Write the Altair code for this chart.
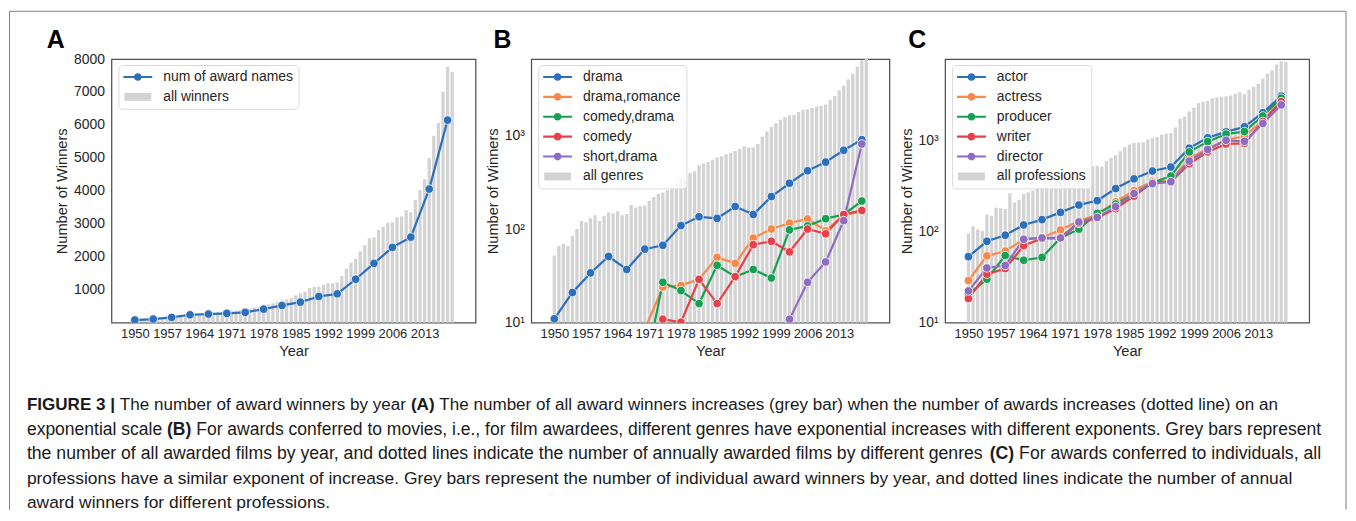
import altair as alt
import pandas as pd

FONT = "Liberation Sans"
TXT = "#262626"
BAR_GRAY = "#d3d3d3"
FRAME = "#808080"

YEARS = list(range(1950, 2020))
LINE_YEARS = list(range(1950, 2019, 4))
TICK_YEARS = list(range(1950, 2014, 7))

# ---------------- Panel A ----------------
all_winners = [100, 115, 120, 130, 145, 160, 170, 185, 200, 215,
               240, 255, 265, 275, 285, 295, 300, 310, 320, 330,
               340, 350, 365, 385, 400, 430, 460, 490, 520, 560,
               590, 630, 670, 700, 740, 835, 895, 935, 1050, 1080,
               1100, 1150, 1200, 1200, 1220, 1420, 1640, 1820, 1940, 2160,
               2360, 2560, 2590, 2810, 2910, 3030, 3050, 3190, 3230, 3410,
               3350, 3720, 4030, 4350, 5000, 5670, 6060, 7010, 7770, 7610]
award_names = [80, 110, 160, 240, 262, 282, 312, 412, 523, 624,
               795, 875, 1318, 1800, 2284, 2596, 4054, 6147]

# ---------------- Panel B ----------------
all_genres = [52, 66, 69, 66, 85, 100, 122, 118, 130, 140,
              122, 138, 150, 147, 155, 140, 145, 180, 170, 176,
              178, 200, 220, 238, 245, 260, 300, 305, 350, 340,
              395, 415, 480, 500, 520, 550, 580, 600, 630, 650,
              680, 715, 760, 740, 740, 810, 975, 1100, 1225, 1350,
              1465, 1560, 1640, 1650, 1780, 1870, 1900, 1965, 2030, 2060,
              2130, 2390, 2630, 3040, 3400, 3940, 4560, 5420, 6300, 6600]
genre_names = ["drama", "drama,romance", "comedy,drama", "comedy", "short,drama"]
drama = [11, 21, 34, 51, 37, 61, 67, 109, 135, 130, 174, 143, 222, 308, 419, 518, 694, 900]
drama_romance = [None, None, None, None, None, 8.5, 24, 25, 29, 50, 43, 80, 100, 116, 128, 96, 140, 155]
comedy_drama = [None, None, None, None, None, 3, 27, 22, 16, 41, 31, 37, 30, 98, 108, 129, 143, 199]
comedy = [None, None, None, None, None, None, 10.9, 10.1, 29, 16, 31, 68, 74, 57, 100, 89, 143, 158]
short_drama = [None] * 13 + [10.9, 27, 44.5, 123, 809]

# ---------------- Panel C ----------------
all_professions = [95, 114, 105, 102, 154, 149, 182, 180, 177, 262,
                   208, 221, 257, 270, 280, 300, 310, 320, 335, 345,
                   355, 365, 380, 395, 410, 440, 500, 520, 525, 515,
                   590, 640, 687, 760, 845, 900, 935, 945, 950, 1020,
                   1060, 1090, 1150, 1180, 1205, 1384, 1720, 1820, 2066, 2280,
                   2560, 2655, 2690, 2885, 2950, 3000, 3050, 3100, 3240, 3360,
                   3200, 3580, 3860, 4170, 4730, 5380, 5860, 6760, 7360, 7250]
prof_names = ["actor", "actress", "producer", "writer", "director"]
actor = [53, 78, 91, 118, 135, 162, 195, 218, 296, 378, 460, 509, 820, 1065, 1237, 1408, 2010, 3050]
actress = [29, 54, 61, 82, 86, 104, 130, 152, 212, 280, 358, 360, 632, 810, 1013, 1105, 1640, 2740]
producer = [20.6, 30, 54.5, 48.4, 52, 85, 106, 158, 200, 258, 342, 406, 746, 967, 1170, 1248, 1850, 2900]
writer = [18.4, 34, 39.2, 70, 84, 84, 123, 141, 178, 244, 346, 350, 553, 746, 912, 927, 1610, 2655]
director = [22.3, 39.8, 42.4, 82, 85, 85, 127, 143, 187, 261, 335, 352, 591, 792, 1000, 975, 1530, 2445]

PALETTE = ["#2c6fbb", "#f8894b", "#17a052", "#e5414b", "#8e6cbf"]

# caption text
caption_lines = [
    [("FIGURE 3 |", True), (" The number of award winners by year ", False), ("(A)", True),
     (" The number of all award winners increases (grey bar) when the number of awards increases (dotted line) on an", False)],
    [("exponential scale ", False), ("(B)", True),
     (" For awards conferred to movies, i.e., for film awardees, different genres have exponential increases with different exponents. Grey bars represent", False)],
    [("the number of all awarded films by year, and dotted lines indicate the number of annually awarded films by different genres ", False),
     ("(C)", True), (" For awards conferred to individuals, all", False)],
    [("professions have a similar exponent of increase. Grey bars represent the number of individual award winners by year, and dotted lines indicate the number of annual", False)],
    [("award winners for different professions.", False)],
]

# legend glyphs (unit = sqrt(symbolSize)/2 px)
LINE_SYM = ("M-1,-0.15H0.6V0.15H-1Z"
            "M1.54,-0.15H3.14V0.15H1.54Z"
            "M0.52,0A0.55,0.55,0,1,1,1.62,0A0.55,0.55,0,1,1,0.52,0Z")
RECT_SYM = "M-0.86,-0.57H3V0.57H-0.86Z"


def make_legend():
    return alt.Legend(
        title=None, orient="none", legendX=7, legendY=6,
        fillColor="rgba(255,255,255,0.8)", strokeColor="#dadada", cornerRadius=4,
        padding=5, symbolSize=196, symbolStrokeWidth=0, symbolOpacity=1,
        labelOffset=26, labelFont=FONT, labelFontSize=14,
        labelColor=TXT, rowPadding=6, labelLimit=400,
    )


def letter_layer(letter, dx):
    return alt.Chart(pd.DataFrame({"t": [letter]})).mark_text(
        align="left", baseline="alphabetic", font=FONT, fontSize=25, fontWeight="bold",
        color="black").encode(x=alt.value(dx), y=alt.value(-11), text="t:N")


def make_panel(bar_vals, bar_label, names, series, colors, width, log, ydomain, yvalues,
               letter, dx, extra=()):
    bars = pd.DataFrame({"year": YEARS, "value": bar_vals, "series": bar_label})
    rows = []
    for n, vals in zip(names, series):
        for yr, v in zip(LINE_YEARS, vals):
            if v is not None:
                rows.append({"year": yr, "value": v, "series": n})
    lines = pd.DataFrame(rows)
    domain = names + [bar_label]
    # legend-only rows, placed below the visible range and clipped away
    below = 1 if log else -5000
    key = pd.DataFrame({"year": [2000] * len(domain), "value": [below] * len(domain),
                        "series": domain})
    cscale = alt.Scale(domain=domain, range=colors + [BAR_GRAY])
    sscale = alt.Scale(domain=domain, range=[LINE_SYM] * len(names) + [RECT_SYM])
    legend = make_legend()
    xenc = alt.X("year:Q", title="Year",
                 scale=alt.Scale(domain=[1946, 2023], nice=False, zero=False),
                 axis=alt.Axis(values=TICK_YEARS, format="d", labelOverlap=False,
                               labelFlush=False, labelFontSize=13))
    if log:
        yscale = alt.Scale(type="log", domain=ydomain, nice=False)
        yaxis = alt.Axis(values=yvalues,
                         labelExpr="datum.value == 10 ? '10¹' : datum.value == 100 ? '10²' : '10³'")
    else:
        yscale = alt.Scale(domain=ydomain, nice=False)
        yaxis = alt.Axis(values=yvalues, format="d")
    yenc = alt.Y("value:Q", title="Number of Winners", scale=yscale, axis=yaxis)
    col = alt.Color("series:N", scale=cscale, legend=legend)

    key_layer = alt.Chart(key).mark_point(filled=True, size=196, opacity=1, clip=True,
                                          strokeWidth=0).encode(
        x=xenc, y=yenc, color=col,
        shape=alt.Shape("series:N", scale=sscale, legend=legend))
    bar_enc = dict(x=xenc, y=yenc, color=col)
    if log:
        bar_enc["y2"] = alt.datum(ydomain[0])
    bar_layer = alt.Chart(bars).mark_bar(size=3.3, clip=True).encode(**bar_enc)
    line_layer = alt.Chart(lines).mark_line(strokeWidth=2.2, clip=True).encode(
        x=xenc, y=yenc, color=col, detail="series:N")
    pt_layer = alt.Chart(lines).mark_point(filled=True, size=74, stroke="white", strokeWidth=0.8,
                                           opacity=1, clip=True).encode(
        x=xenc, y=yenc, color=col)
    return alt.layer(key_layer, bar_layer, line_layer, pt_layer, letter_layer(letter, dx),
                     *extra).properties(width=width, height=265)


# ---------------- Caption + outer frame (drawn in panel A's pixel frame) ----------------
REG = {' ': 278, '!': 278, '(': 333, ')': 333, ',': 278, '-': 333, '.': 278, '|': 260,
       'A': 667, 'B': 667, 'C': 722, 'F': 611, 'G': 778, 'T': 611,
       'a': 556, 'b': 556, 'c': 500, 'd': 556, 'e': 556, 'f': 278, 'g': 556, 'h': 556,
       'i': 222, 'j': 222, 'k': 500, 'l': 222, 'm': 833, 'n': 556, 'o': 556, 'p': 556,
       'q': 556, 'r': 333, 's': 500, 't': 278, 'u': 556, 'v': 500, 'w': 722, 'x': 500,
       'y': 500, 'z': 500}
BOLD = {' ': 278, '(': 333, ')': 333, 'A': 722, 'B': 722, 'C': 722, 'F': 611, 'I': 278,
        'G': 778, 'U': 722, 'R': 722, 'E': 667, '3': 556, '|': 280}

CAP_SIZES = [17.15, 17.6, 17.75, 17.5, 17.5]


def text_w(s, bold, size):
    tab = BOLD if bold else REG
    return sum(tab.get(ch, 556) for ch in s) * size / 1000.0


CAP_X0 = -85
CAP_Y = [347.5, 372.5, 397.5, 422.5, 446.5]
extra_layers = []
FL, FR, FT, FB = -102.5, 1241, -48, 453
frame_df = pd.DataFrame({"k": [0]})
extra_layers += [
    alt.Chart(frame_df).mark_rule(color=FRAME, strokeWidth=1).encode(
        x=alt.value(FL), x2=alt.value(FR), y=alt.value(FT)),
    alt.Chart(frame_df).mark_rule(color=FRAME, strokeWidth=1).encode(
        x=alt.value(FL), y=alt.value(FT), y2=alt.value(FB)),
    alt.Chart(frame_df).mark_rule(color=FRAME, strokeWidth=1).encode(
        x=alt.value(FR), y=alt.value(FT), y2=alt.value(FB)),
]
for li, segs in enumerate(caption_lines):
    x = CAP_X0
    size = CAP_SIZES[li]
    for seg, bold in segs:
        lead = len(seg) - len(seg.lstrip(" "))
        extra_layers.append(
            alt.Chart(pd.DataFrame({"t": [seg.strip()]})).mark_text(
                align="left", baseline="middle", font=FONT, fontSize=size,
                fontWeight="bold" if bold else "normal", color="#1a1a1a").encode(
                x=alt.value(x + text_w(" " * lead, bold, size)), y=alt.value(CAP_Y[li]),
                text="t:N"))
        x += text_w(seg, bold, size)

pA = make_panel(all_winners, "all winners", ["num of award names"], [award_names],
                PALETTE[:1], 366, False, [0, 8000], list(range(1000, 8001, 1000)), "A", -65,
                extra=extra_layers)
pB = make_panel(all_genres, "all genres", genre_names,
                [drama, drama_romance, comedy_drama, comedy, short_drama],
                PALETTE, 360, True, [10, 6530], [10, 100, 1000], "B", -38)
pC = make_panel(all_professions, "all professions", prof_names,
                [actor, actress, producer, writer, director],
                PALETTE, 366, True, [10, 7780], [10, 100, 1000], "C", -37)

chart = alt.hconcat(pA, pB, pC, spacing=56, bounds="flush").resolve_scale(
    color="independent", shape="independent"
).resolve_legend(
    color="independent", shape="independent"
).properties(
    padding=0
).configure_view(
    stroke="#505050", strokeWidth=1.25
).configure_axis(
    labelFont=FONT, labelFontSize=14, labelColor=TXT, titleFont=FONT, titleFontSize=14.7,
    titleFontWeight="normal", titleColor=TXT, ticks=False, tickSize=0, domain=False, grid=False
).configure_axisX(
    labelPadding=5, titlePadding=3
).configure_axisY(
    labelPadding=7, titlePadding=4
)

chart.save("out.html", embed_options={"renderer": "svg", "actions": False})
